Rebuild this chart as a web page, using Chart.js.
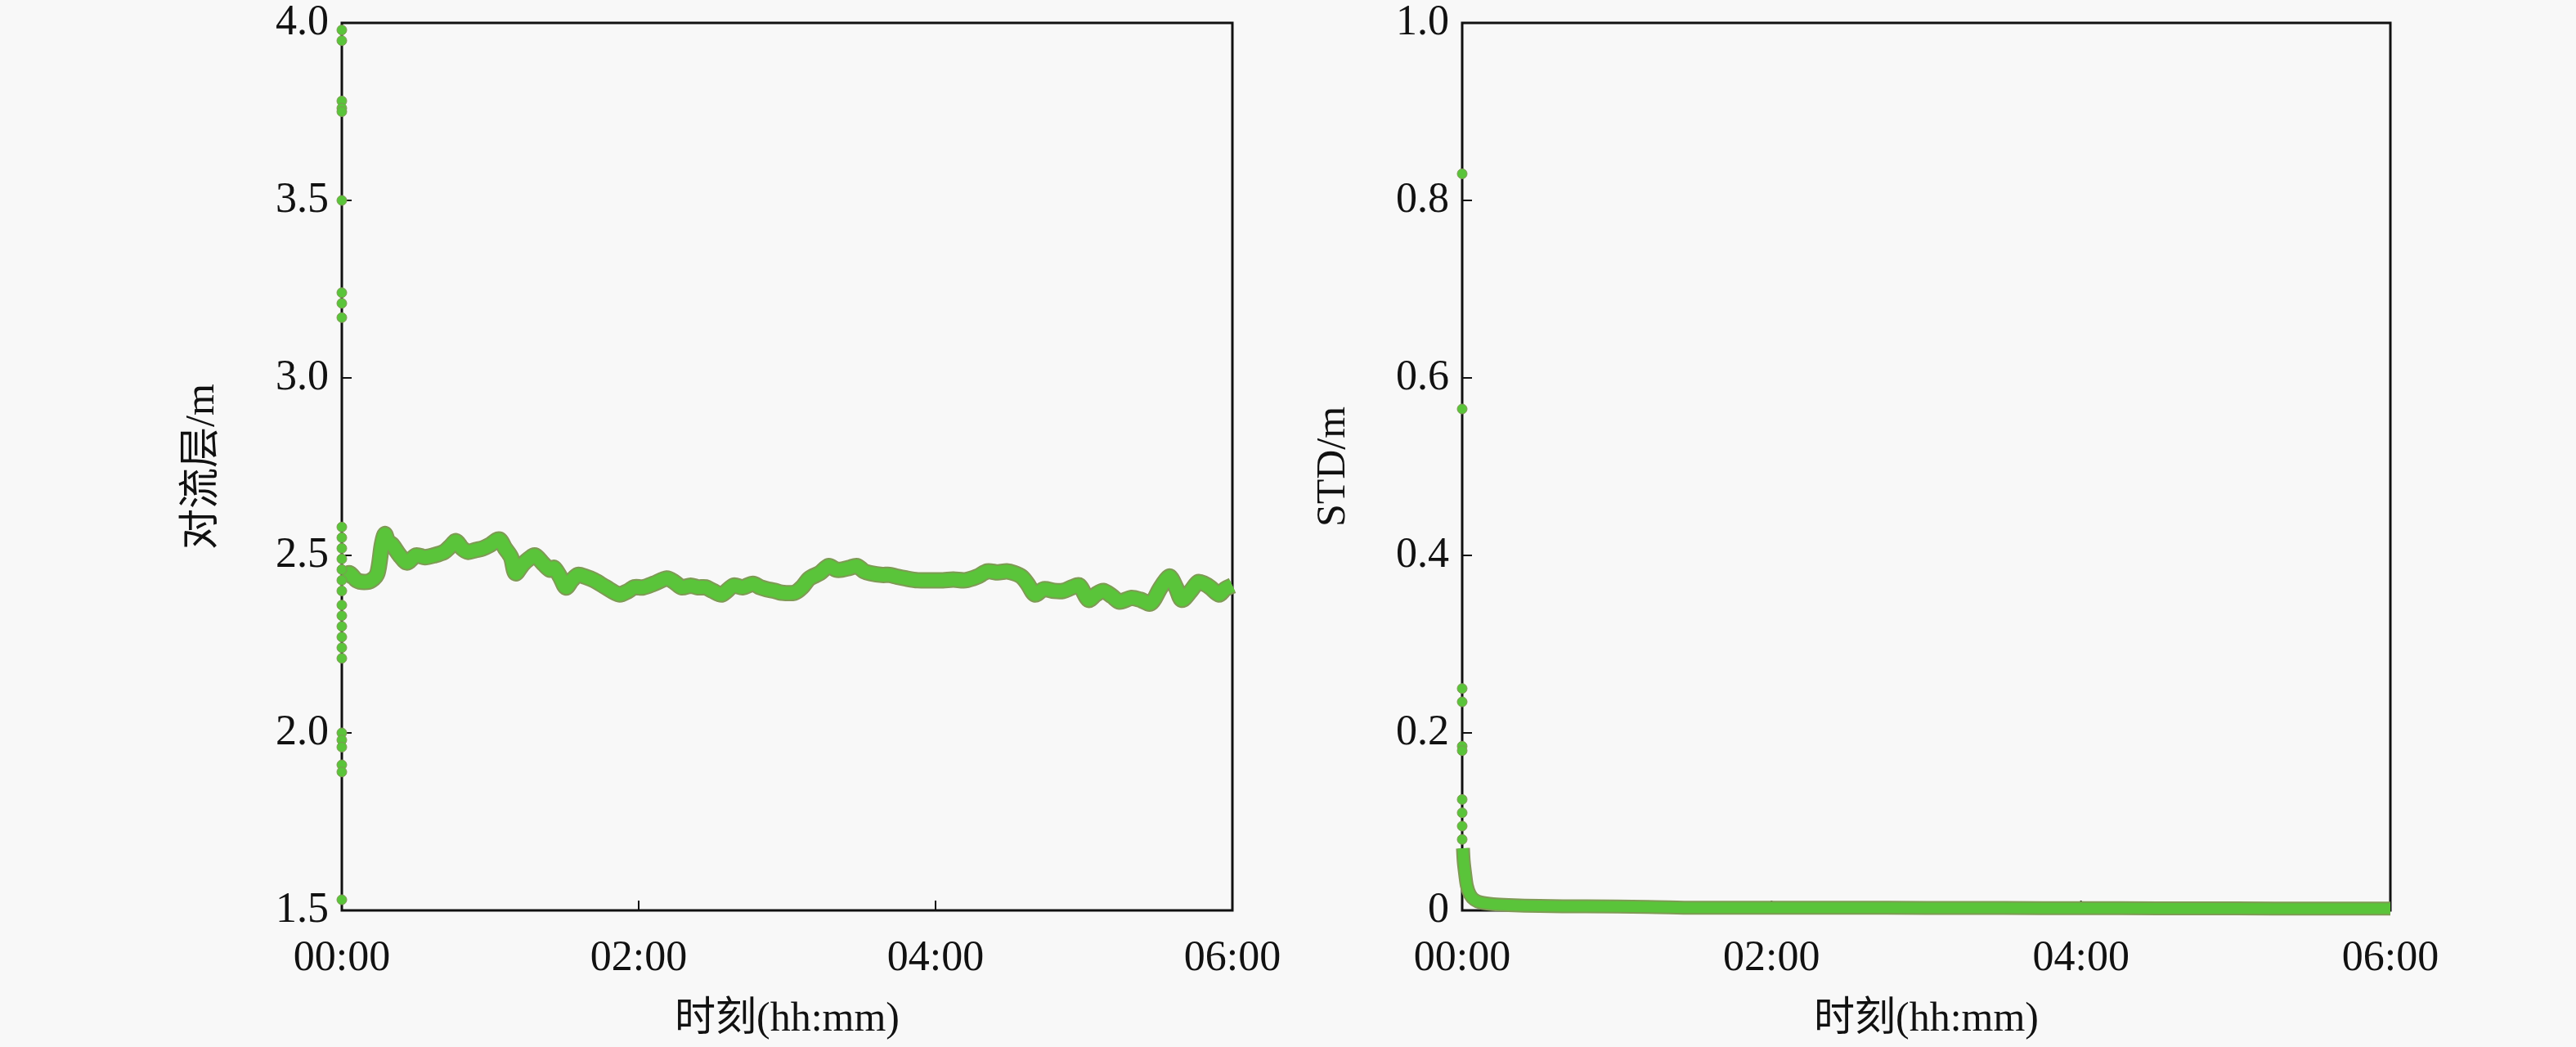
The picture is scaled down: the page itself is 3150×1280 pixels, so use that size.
<!DOCTYPE html>
<html>
<head>
<meta charset="utf-8">
<script src="https://cdn.jsdelivr.net/npm/chart.js@4.4.1/dist/chart.umd.min.js"></script>
<style>
    html, body { margin: 0; padding: 0; background: #f8f8f8; }
    body { width: 3150px; height: 1280px; position: relative; overflow: hidden; }
    .panel { position: absolute; top: 0; height: 1280px; }
    #tropoPanel { left: 0; width: 1580px; }
    #stdPanel { left: 1580px; width: 1570px; }
</style>
</head>
<body>
<div class="panel" id="tropoPanel"><canvas id="tropoChart"></canvas></div>
<div class="panel" id="stdPanel"><canvas id="stdChart"></canvas></div>
<script>
// Tick labels
const timeTicks = ['00:00', '02:00', '04:00', '06:00'];
const tropoTicks = ['1.5', '2.0', '2.5', '3.0', '3.5', '4.0'];
const stdTicks = ['0', '0.2', '0.4', '0.6', '0.8', '1.0'];

// Troposphere (m): values at the first epoch (00:00)
const tropoStart = [3.98, 3.95, 3.78, 3.76, 3.75, 3.5, 3.24, 3.21, 3.17,
    2.58, 2.55, 2.52, 2.49, 2.46, 2.43, 2.4, 2.36, 2.33, 2.3, 2.27, 2.24, 2.21,
    2.0, 1.98, 1.96, 1.91, 1.89, 1.53];

// Troposphere (m) after convergence, time in hours
const tropoHours = [0.01, 0.05, 0.1, 0.15, 0.2, 0.24, 0.27, 0.29, 0.31, 0.34, 0.39, 0.44, 0.5, 0.56, 0.62,
    0.69, 0.73, 0.77, 0.81, 0.85, 0.9, 0.95, 1.0, 1.06, 1.1, 1.14, 1.17, 1.22, 1.26, 1.3, 1.35, 1.4,
    1.43, 1.47, 1.51, 1.55, 1.59, 1.64, 1.7, 1.78, 1.87, 1.93, 1.97, 2.03, 2.1, 2.19, 2.24, 2.29,
    2.35, 2.4, 2.45, 2.5, 2.56, 2.64, 2.7, 2.77, 2.82, 2.86, 2.92, 2.96, 3.05, 3.1, 3.15, 3.22,
    3.28, 3.33, 3.37, 3.42, 3.47, 3.52, 3.56, 3.64, 3.69, 3.74, 3.8, 3.88, 3.95, 4.05, 4.12, 4.2,
    4.28, 4.35, 4.42, 4.48, 4.53, 4.58, 4.62, 4.67, 4.73, 4.8, 4.86, 4.92, 4.97, 5.03, 5.08, 5.13,
    5.19, 5.24, 5.32, 5.38, 5.45, 5.51, 5.55, 5.58, 5.62, 5.66, 5.72, 5.77, 5.81, 5.85, 5.91, 5.95, 6.0];
const tropoValues = [2.44, 2.45, 2.43, 2.425, 2.43, 2.45, 2.53, 2.56, 2.54, 2.53, 2.5, 2.48, 2.5, 2.495, 2.5,
    2.51, 2.525, 2.54, 2.52, 2.51, 2.515, 2.52, 2.53, 2.545, 2.52, 2.495, 2.45, 2.475, 2.49, 2.5, 2.48, 2.46,
    2.465, 2.44, 2.41, 2.43, 2.445, 2.44, 2.43, 2.41, 2.39, 2.4, 2.41, 2.41, 2.42, 2.435, 2.425, 2.41,
    2.415, 2.41, 2.41, 2.4, 2.39, 2.415, 2.41, 2.42, 2.41, 2.405, 2.4, 2.395, 2.395, 2.41, 2.435, 2.45,
    2.47, 2.46, 2.46, 2.465, 2.47, 2.455, 2.45, 2.445, 2.445, 2.44, 2.435, 2.43, 2.43, 2.43, 2.432, 2.43,
    2.44, 2.455, 2.452, 2.455, 2.45, 2.44, 2.42, 2.39, 2.405, 2.4, 2.4, 2.41, 2.415, 2.375, 2.39, 2.4,
    2.385, 2.37, 2.38, 2.375, 2.365, 2.405, 2.43, 2.44, 2.41, 2.375, 2.4, 2.425, 2.42, 2.41, 2.39, 2.405, 2.415];

// STD (m): values at the first epoch, then the converged series
const stdStart = [0.83, 0.565, 0.25, 0.235, 0.185, 0.18, 0.125, 0.11, 0.095, 0.08];
const stdHours = [0.005, 0.01, 0.02, 0.03, 0.05, 0.08, 0.12, 0.2, 0.3, 0.5, 0.8, 1.2, 1.5, 2.0,
    2.5, 3.0, 3.5, 4.0, 4.5, 5.0, 5.5, 6.0];
const stdValues = [0.07, 0.055, 0.04, 0.028, 0.018, 0.012, 0.009, 0.007, 0.006, 0.005, 0.0045, 0.004,
    0.003, 0.003, 0.003, 0.0028, 0.0027, 0.0025, 0.0024, 0.0022, 0.0021, 0.002];

const GREEN = '#5ac43a';
const EDGE = '#7f9a55';
const FONT = "'Liberation Serif', 'Noto Sans CJK SC', serif";

Chart.defaults.font.family = FONT;
Chart.defaults.color = '#111';

// box frame with inward ticks, drawn under the data
const framePlugin = {
    id: 'frame',
    beforeDatasetsDraw(chart) {
        const { ctx, chartArea: a, scales: { x, y } } = chart;
        ctx.save();
        ctx.strokeStyle = '#111';
        ctx.lineWidth = 3;
        ctx.strokeRect(a.left, a.top, a.right - a.left, a.bottom - a.top);
        ctx.lineWidth = 2;
        ctx.beginPath();
        x.ticks.forEach(t => {
            const px = x.getPixelForValue(t.value);
            ctx.moveTo(px, a.bottom);
            ctx.lineTo(px, a.bottom - 12);
        });
        y.ticks.forEach(t => {
            const py = y.getPixelForValue(t.value);
            ctx.moveTo(a.left, py);
            ctx.lineTo(a.left + 12, py);
        });
        ctx.stroke();
        ctx.restore();
    }
};

function toPoints(xs, ys) {
    return ys.map((v, i) => ({ x: xs[i], y: v }));
}

// drop the label overhang padding so the plot box sits where the layout says
function noOverhang(s) {
    s.paddingTop = 0;
    s.paddingBottom = 0;
    s.paddingLeft = 0;
    s.paddingRight = 0;
}

function makeChart(id, cfg) {
    return new Chart(document.getElementById(id), {
        type: 'line',
        data: {
            datasets: [
                {
                    data: cfg.start.map(v => ({ x: 0, y: v })),
                    showLine: false,
                    pointRadius: 6,
                    pointBackgroundColor: GREEN,
                    pointBorderColor: EDGE,
                    pointBorderWidth: 1,
                    clip: false
                },
                {
                    data: toPoints(cfg.hours, cfg.values),
                    borderColor: GREEN,
                    borderWidth: cfg.band,
                    pointRadius: 0,
                    tension: 0.3,
                    clip: false
                },
                {
                    data: toPoints(cfg.hours, cfg.values),
                    borderColor: EDGE,
                    borderWidth: cfg.band + 4,
                    pointRadius: 0,
                    tension: 0.3,
                    clip: false
                }
            ]
        },
        options: {
            responsive: true,
            maintainAspectRatio: false,
            animation: false,
            devicePixelRatio: 1,
            layout: {
                autoPadding: false,
                padding: { top: 28, right: cfg.padRight, left: 0, bottom: 0 }
            },
            plugins: { legend: { display: false }, tooltip: { enabled: false } },
            scales: {
                x: {
                    type: 'linear',
                    min: 0,
                    max: 6,
                    grid: { display: false, drawTicks: false },
                    border: { display: false },
                    ticks: {
                        stepSize: 2,
                        padding: 28,
                        maxRotation: 0,
                        font: { size: 52 },
                        callback: (v, i) => timeTicks[i]
                    },
                    title: {
                        display: true,
                        text: '时刻(hh:mm)',
                        font: { size: 50 },
                        padding: { top: 0, bottom: 3 }
                    },
                    afterFit: s => { s.height = 167; noOverhang(s); }
                },
                y: {
                    min: cfg.min,
                    max: cfg.max,
                    grid: { display: false, drawTicks: false },
                    border: { display: false },
                    ticks: {
                        stepSize: cfg.step,
                        padding: 16,
                        font: { size: 52 },
                        callback: (v, i) => cfg.ticks[i]
                    },
                    title: {
                        display: true,
                        text: cfg.title,
                        font: { size: 50 },
                        padding: { top: cfg.titlePad, bottom: 0 }
                    },
                    afterFit: s => { s.width = cfg.axisWidth; noOverhang(s); }
                }
            }
        },
        plugins: [framePlugin]
    });
}

makeChart('tropoChart', {
    start: tropoStart, hours: tropoHours, values: tropoValues,
    min: 1.5, max: 4.0, step: 0.5, ticks: tropoTicks,
    title: '对流层/m', axisWidth: 418, padRight: 73, titlePad: 218, band: 16
});

makeChart('stdChart', {
    start: stdStart, hours: stdHours, values: stdValues,
    min: 0, max: 1.0, step: 0.2, ticks: stdTicks,
    title: 'STD/m', axisWidth: 208, padRight: 227, titlePad: 21, band: 13
});
</script>
</body>
</html>
